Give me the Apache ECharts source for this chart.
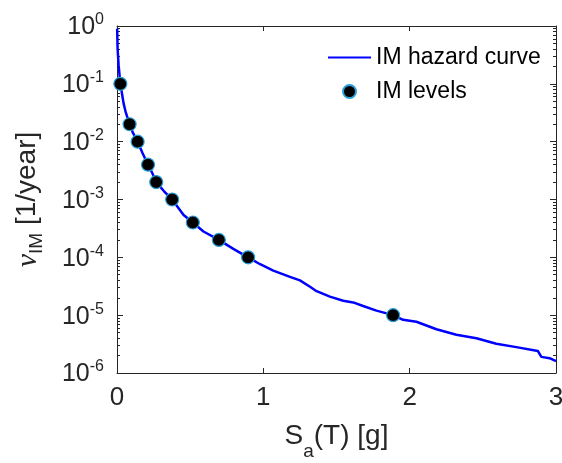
<!DOCTYPE html>
<html>
<head>
<meta charset="utf-8">
<script src="https://cdn.jsdelivr.net/npm/echarts@6/dist/echarts.min.js"></script>
<style>
  html, body { margin: 0; padding: 0; background: #fff; }
  #chart { width: 562px; height: 463px; }
</style>
</head>
<body>
<div id="chart"></div>
<script>
// hazard curve
var hazardIM = [0.001, 0.004, 0.011, 0.023, 0.034, 0.045, 0.06, 0.086, 0.11, 0.141, 0.175, 0.212, 0.24, 0.268, 0.32, 0.377,
  0.455, 0.518, 0.591, 0.696, 0.795, 0.896, 0.978, 1.068, 1.182, 1.25, 1.319, 1.364, 1.455, 1.546, 1.614, 1.682, 1.773,
  1.887, 1.955, 2.046, 2.183, 2.319, 2.456, 2.592, 2.729, 2.876, 2.9, 2.956, 3.0];
var hazardRate = [0.9, 0.41, 0.21, 0.1, 0.068, 0.046, 0.032, 0.02, 0.014, 0.01, 0.0063, 0.004, 0.0029, 0.002, 0.0014, 0.001,
  0.00054, 0.0004, 0.00028, 0.0002, 0.00014, 0.0001, 7.6e-5, 5.9e-5, 4.6e-5, 4.0e-5, 3.1e-5, 2.6e-5, 2.09e-5, 1.78e-5, 1.66e-5, 1.44e-5, 1.2e-5,
  1.0e-5, 8.3e-6, 7.7e-6, 5.7e-6, 4.6e-6, 4.0e-6, 3.2e-6, 2.8e-6, 2.4e-6, 1.9e-6, 1.8e-6, 1.6e-6];

// IM levels (dots)
var levelIM = [0.023, 0.086, 0.141, 0.212, 0.268, 0.377, 0.518, 0.696, 0.896, 1.887];
var levelRate = [0.1, 0.02, 0.01, 0.004, 0.002, 0.001, 0.0004, 0.0002, 0.0001, 0.00001];

var xTicks = [0, 1, 2, 3];
var yMin = 1e-6, yMax = 1;

var FONT = "Liberation Sans, Arial, sans-serif";

var curveData = hazardIM.map(function (x, i) { return [x, hazardRate[i]]; });
var levelData = levelIM.map(function (x, i) { return [x, levelRate[i]]; });

var myChart = echarts.init(document.getElementById("chart"));

var yLabelRich = {
  b: { fontSize: 25, fontFamily: FONT, color: "#262626", verticalAlign: "bottom" },
  s: { fontSize: 16, fontFamily: FONT, color: "#262626", verticalAlign: "top", padding: [0, 0, 12, 0] }
};

const option = {
  animation: false,
  grid: { left: 117, right: 6, top: 26, bottom: 90, containLabel: false, outerBoundsMode: "none" },
  legend: {
    orient: "vertical",
    left: 327,
    top: 46,
    padding: 0,
    itemWidth: 43,
    itemHeight: 13,
    itemGap: 11,
    data: [
      { name: "IM hazard curve", itemStyle: { opacity: 0 } },
      "IM levels"
    ],
    textStyle: { fontSize: 23, fontFamily: FONT, color: "#000" }
  },
  xAxis: [
    {
      type: "value",
      min: xTicks[0],
      max: xTicks[xTicks.length - 1],
      interval: 1,
      name: "{m|S}{sub|a}{m|(T) [g]}",
      nameLocation: "middle",
      nameGap: 49,
      nameTextStyle: {
        rich: {
          m: { fontSize: 28, fontFamily: FONT, color: "#262626", verticalAlign: "top" },
          sub: { fontSize: 19, fontFamily: FONT, color: "#262626", verticalAlign: "bottom", padding: [20, 0, 0, 0] }
        }
      },
      axisLine: { show: true, onZero: false, lineStyle: { color: "#262626", width: 1 } },
      axisTick: { show: true, inside: true, length: 5, lineStyle: { color: "#262626" } },
      axisLabel: { margin: 12, fontSize: 26, fontFamily: FONT, color: "#262626" },
      splitLine: { show: false }
    },
    {
      type: "value",
      position: "top",
      min: xTicks[0],
      max: xTicks[xTicks.length - 1],
      interval: 1,
      axisLine: { show: true, onZero: false, lineStyle: { color: "#262626", width: 1 } },
      axisTick: { show: true, inside: true, length: 5, lineStyle: { color: "#262626" } },
      axisLabel: { show: false },
      splitLine: { show: false }
    }
  ],
  yAxis: [
    {
      type: "log",
      logBase: 10,
      min: yMin,
      max: yMax,
      name: "{nu|ν}{sub|IM}{m| [1/year]}",
      nameLocation: "middle",
      nameRotate: 90,
      nameGap: 71,
      nameTextStyle: {
        rich: {
          nu: { fontSize: 30, fontFamily: "Liberation Serif, serif", fontStyle: "italic", color: "#262626", verticalAlign: "top" },
          m: { fontSize: 28, fontFamily: FONT, color: "#262626", verticalAlign: "top" },
          sub: { fontSize: 19, fontFamily: FONT, color: "#262626", verticalAlign: "bottom", padding: [14, 0, 0, 0] }
        }
      },
      axisLine: { show: true, onZero: false, lineStyle: { color: "#262626", width: 1 } },
      axisTick: { show: true, inside: true, length: 6, lineStyle: { color: "#262626" } },
      minorTick: { show: true, splitNumber: 9, length: 3, lineStyle: { color: "#262626" } },
      axisLabel: {
        margin: 13,
        formatter: function (v) {
          var e = Math.round(Math.log10(v));
          return "{b|10}{s|" + e + "}";
        },
        rich: yLabelRich
      },
      splitLine: { show: false }
    },
    {
      type: "log",
      logBase: 10,
      min: yMin,
      max: yMax,
      position: "right",
      axisLine: { show: true, onZero: false, lineStyle: { color: "#262626", width: 1 } },
      axisTick: { show: true, inside: true, length: 6, lineStyle: { color: "#262626" } },
      minorTick: { show: true, splitNumber: 9, length: 3, lineStyle: { color: "#262626" } },
      axisLabel: { show: false },
      splitLine: { show: false }
    }
  ],
  series: [
    {
      name: "IM hazard curve",
      type: "line",
      data: curveData,
      showSymbol: false,
      symbol: "none",
      lineStyle: { color: "#0000ff", width: 2.5 },
      itemStyle: { color: "#0000ff" },
      z: 2
    },
    {
      name: "IM levels",
      type: "scatter",
      data: levelData,
      symbol: "circle",
      symbolSize: 13,
      itemStyle: { color: "#000", borderColor: "#2a9fd8", borderWidth: 1.2, opacity: 1 },
      z: 3
    }
  ]
};
myChart.setOption(option);
window.onresize = function () {
  myChart.resize();
};
</script>
</body>
</html>
